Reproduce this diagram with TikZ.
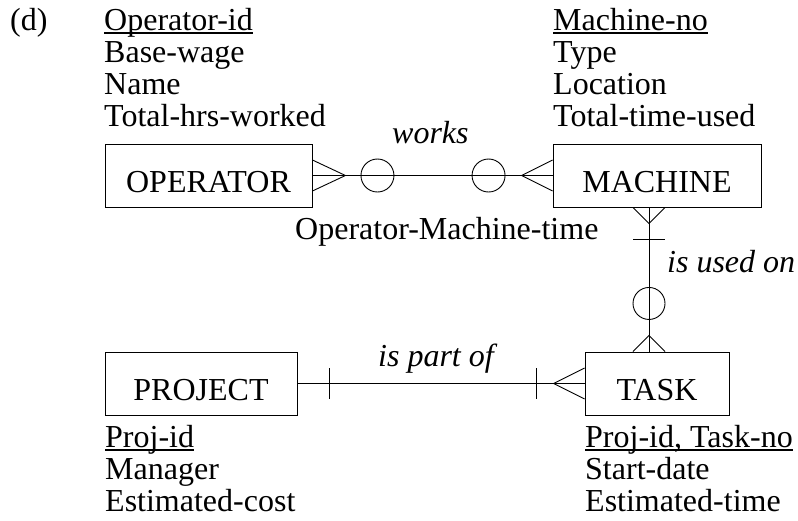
\documentclass[tikz,border=0pt]{standalone}
\usepackage{fontspec}
\setmainfont{Liberation Serif}
\usetikzlibrary{calc}
\newcommand\keyul[1]{\setbox0\hbox{#1}\rlap{\rule[-3.5pt]{\wd0}{1.3pt}}\box0}
\tikzset{
  every node/.style={font=\fontsize{32}{32}\selectfont, inner sep=0pt},
  entity/.style={draw, line width=0.9pt, minimum height=63pt, text height=33pt, text depth=0pt},
  attr/.style={anchor=base west},
  rel/.style={anchor=base west, font=\fontsize{32}{32}\selectfont\itshape},
  ln/.style={line width=0.9pt}
}
\begin{document}
\begin{tikzpicture}[x=1pt,y=-1pt]
\useasboundingbox (0,0) rectangle (798,520);
% entities
\node[entity, minimum width=207pt] (op) at (208.5,175.5) {OPERATOR};
\node[entity, minimum width=208pt] (mach) at (657,175.5) {MACHINE};
\node[entity, minimum width=192pt] (proj) at (201,383.5) {PROJECT};
\node[entity, minimum width=144pt] (task) at (657,383.5) {TASK};
% label
\node[attr] (lbl) at (10,30) {(d)};
% attributes
\node[attr] (opa1) at (104,30) {\keyul{Operator-id}};
\node[attr] (opa2) at (104,62) {Base-wage};
\node[attr] (opa3) at (104,94) {Name};
\node[attr] (opa4) at (104,126) {Total-hrs-worked};
\node[attr] (ma1) at (553,30) {\keyul{Machine-no}};
\node[attr] (ma2) at (553,62) {Type};
\node[attr] (ma3) at (553,94) {Location};
\node[attr] (ma4) at (553,126) {Total-time-used};
\node[attr] (pa1) at (105,447) {\keyul{Proj-id}};
\node[attr] (pa2) at (105,479) {Manager};
\node[attr] (pa3) at (105,511) {Estimated-cost};
\node[attr] (ta1) at (585,447) {\keyul{Proj-id, Task-no}};
\node[attr] (ta2) at (585,479) {Start-date};
\node[attr] (ta3) at (585,511) {Estimated-time};
% relationship labels
\node[rel] (works) at (392,143) {works};
\node[attr] (omt) at (295,239) {Operator-Machine-time};
\node[rel] (used) at (667,272) {is used on};
\node[rel] (part) at (378,366) {is part of};
% works
\draw[ln] (op.east) -- (mach.west);
\draw[ln] ($(op.east)+(0,-15.5)$) -- ($(op.east)+(33,0)$) -- ($(op.east)+(0,15.5)$);
\draw[ln] ($(op.east)+(65,0)$) circle[radius=16.5pt];
\draw[ln] ($(mach.west)+(0,-15.5)$) -- ($(mach.west)+(-31,0)$) -- ($(mach.west)+(0,15.5)$);
\draw[ln] ($(mach.west)+(-64,0)$) circle[radius=16.5pt];
% is used on
\coordinate (vx) at (649,0);
\draw[ln] (mach.south -| vx) -- (task.north -| vx);
\draw[ln] ($(mach.south -| vx)+(-16,0)$) -- ($(mach.south -| vx)+(0,16)$) -- ($(mach.south -| vx)+(16,0)$);
\draw[ln] ($(mach.south -| vx)+(-16,32)$) -- ($(mach.south -| vx)+(16,32)$);
\draw[ln] ($(mach.south -| vx)+(0,96)$) circle[radius=16pt];
\draw[ln] ($(task.north -| vx)+(-16,0)$) -- ($(task.north -| vx)+(0,-16)$) -- ($(task.north -| vx)+(16,0)$);
% is part of
\draw[ln] (proj.east) -- (task.west);
\draw[ln] ($(proj.east)+(32,-15.5)$) -- ($(proj.east)+(32,15.5)$);
\draw[ln] ($(task.west)+(-48,-15.5)$) -- ($(task.west)+(-48,15.5)$);
\draw[ln] ($(task.west)+(0,-15.5)$) -- ($(task.west)+(-31,0)$) -- ($(task.west)+(0,15.5)$);
\end{tikzpicture}
\end{document}
